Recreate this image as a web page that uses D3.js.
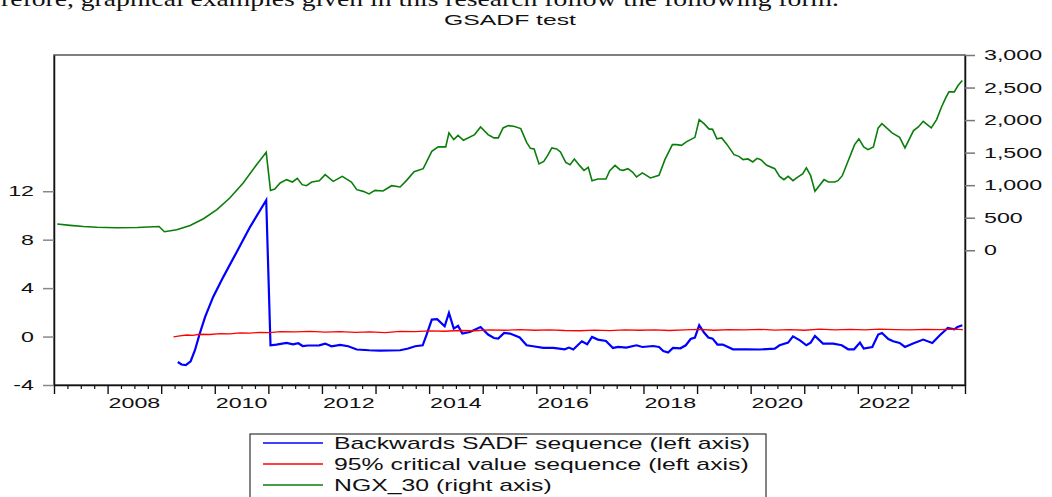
<!DOCTYPE html>
<html>
<head>
<meta charset="utf-8">
<script src="https://cdn.jsdelivr.net/npm/d3@7"></script>
<style>
  body { margin: 0; background: #fff; }
  text { font-family: "Liberation Sans", Arial, sans-serif; fill: #111; }
</style>
</head>
<body>
<svg id="chart" width="1052" height="497"></svg>
<script>
// NGX_30 index (right axis)
const ngxDates = [2007.06,2007.30,2007.55,2007.80,2008.17,2008.55,2008.96,2009.06,2009.29,2009.54,2009.79,2010.04,2010.28,
  2010.53,2010.78,2010.96,2011.04,2011.12,2011.22,2011.34,2011.45,2011.54,2011.63,
  2011.71,2011.81,2011.95,2012.06,2012.21,2012.38,2012.55,2012.65,2012.77,2012.88,
  2012.99,2013.14,2013.30,2013.46,2013.58,2013.72,2013.89,2014.05,2014.17,2014.31,
  2014.37,2014.46,2014.54,2014.64,2014.85,2014.96,2015.10,2015.21,2015.29,2015.38,
  2015.48,2015.58,2015.71,2015.82,2015.89,2015.96,2016.05,2016.14,2016.21,2016.29,
  2016.38,2016.45,2016.55,2016.63,2016.71,2016.81,2016.89,2016.97,2017.04,2017.15,
  2017.30,2017.37,2017.47,2017.56,2017.62,2017.71,2017.80,2017.87,2017.98,2018.13,
  2018.29,2018.40,2018.54,2018.62,2018.71,2018.80,2018.96,2019.04,2019.13,2019.22,
  2019.29,2019.37,2019.46,2019.55,2019.69,2019.78,2019.86,2019.95,2020.04,2020.12,
  2020.19,2020.30,2020.45,2020.54,2020.62,2020.70,2020.79,2020.87,2020.97,2021.04,
  2021.12,2021.20,2021.37,2021.45,2021.57,2021.63,2021.71,2021.94,2022.02,2022.11,
  2022.19,2022.29,2022.38,2022.45,2022.64,2022.78,2022.88,2023.04,2023.13,2023.22,
  2023.37,2023.47,2023.56,2023.64,2023.70,2023.80,2023.87,2023.95];
const ngxValues = [403,383,366,354,346,350,366,285,315,382,485,623,803,
  1034,1315,1505,920,942,1034,1085,1049,1105,1008,
  992,1049,1069,1162,1058,1135,1049,931,905,865,
  920,911,992,972,1074,1208,1254,1520,1588,1588,
  1803,1700,1766,1689,1777,1895,1777,1726,1726,1880,
  1915,1905,1869,1658,1566,1557,1326,1366,1454,1572,
  1557,1511,1351,1315,1403,1300,1228,1274,1069,1095,
  1095,1223,1305,1238,1228,1254,1197,1126,1188,1111,
  1151,1392,1623,1623,1612,1665,1735,2008,1946,1865,
  1858,1711,1726,1634,1469,1443,1392,1403,1357,1412,
  1392,1305,1254,1135,1085,1135,1069,1120,1172,1265,
  1146,905,1085,1049,1049,1069,1146,1623,1711,1588,
  1546,1588,1880,1946,1803,1735,1572,1838,1895,1982,
  1880,2008,2197,2342,2434,2434,2531,2608];

// Backwards SADF sequence (left axis)
const sadfDates = [2009.31,2009.38,2009.46,2009.55,2009.63,2009.72,2009.82,2009.97,2010.16,2010.41,2010.66,2010.96,
  2011.04,2011.15,2011.34,2011.46,2011.56,2011.64,2011.74,2011.95,2012.06,2012.18,2012.34,2012.49,2012.65,2012.88,
  2013.08,2013.46,2013.61,2013.74,2013.88,2013.95,2014.05,2014.15,2014.29,2014.37,2014.46,2014.54,2014.62,2014.76,
  2014.96,2015.10,2015.21,2015.29,2015.40,2015.51,2015.69,2015.82,2015.94,2016.13,2016.32,2016.53,2016.61,2016.69,
  2016.85,2016.95,2017.04,2017.15,2017.30,2017.43,2017.53,2017.68,2017.87,2017.98,2018.18,2018.29,2018.37,2018.46,
  2018.55,2018.69,2018.79,2018.88,2018.96,2019.04,2019.13,2019.21,2019.29,2019.38,2019.48,2019.67,2019.92,2020.17,
  2020.45,2020.54,2020.70,2020.79,2020.92,2021.04,2021.12,2021.20,2021.35,2021.54,2021.70,2021.82,2021.93,2022.04,
  2022.11,2022.27,2022.38,2022.45,2022.57,2022.66,2022.78,2022.88,2023.03,2023.22,2023.39,2023.53,2023.68,2023.80,
  2023.86,2023.95];
const sadfValues = [-2.10,-2.31,-2.36,-2.04,-1.13,0.25,1.62,3.27,4.93,6.99,9.06,11.26,
  -0.72,-0.66,-0.53,-0.64,-0.55,-0.78,-0.74,-0.72,-0.58,-0.80,-0.69,-0.80,-1.07,-1.13,
  -1.16,-1.13,-0.99,-0.80,-0.72,0.11,1.40,1.43,0.85,1.95,0.66,0.88,0.25,0.38,
  0.79,0.17,-0.12,-0.17,0.30,0.25,-0.08,-0.72,-0.80,-0.94,-0.94,-1.05,-0.91,-1.07,
  -0.39,-0.64,-0.03,-0.25,-0.36,-0.94,-0.86,-0.91,-0.72,-0.86,-0.78,-0.86,-1.20,-1.32,
  -0.94,-0.97,-0.72,-0.20,-0.08,0.93,0.33,-0.08,-0.17,-0.66,-0.66,-1.05,-1.05,-1.07,
  -0.99,-0.72,-0.50,0.02,-0.31,-0.72,-0.50,0.05,-0.58,-0.58,-0.72,-1.05,-1.05,-0.50,
  -0.99,-0.86,0.17,0.30,-0.20,-0.39,-0.53,-0.86,-0.58,-0.25,-0.53,0.11,0.71,0.60,
  0.79,0.93];

// 95% critical value sequence (left axis)
const cvDates = [2009.23,2009.35,2009.48,2009.59,2009.72,2009.91,2010.10,2010.28,2010.47,2010.66,2010.84,
  2011.03,2011.22,2011.50,2011.78,2012.06,2012.34,2012.62,2012.90,2013.18,2013.46,2013.74,
  2014.01,2014.29,2014.57,2014.85,2015.13,2015.41,2015.69,2015.97,2016.25,2016.53,2016.81,
  2017.09,2017.37,2017.65,2017.93,2018.21,2018.49,2018.77,2019.04,2019.32,2019.60,2019.88,
  2020.17,2020.45,2020.73,2021.01,2021.29,2021.57,2021.85,2022.13,2022.41,2022.69,2022.97,
  2023.25,2023.53,2023.81,2023.96];
const cvValues = [-0.03,0.05,0.13,0.10,0.19,0.17,0.24,0.22,0.30,0.28,0.35,
  0.33,0.40,0.38,0.42,0.36,0.40,0.35,0.38,0.33,0.42,0.40,
  0.47,0.44,0.50,0.48,0.55,0.52,0.57,0.52,0.56,0.50,0.48,
  0.53,0.49,0.55,0.52,0.56,0.50,0.55,0.60,0.52,0.58,0.55,
  0.60,0.53,0.57,0.52,0.62,0.55,0.60,0.55,0.62,0.58,0.55,
  0.60,0.57,0.62,0.58];

const leftTicks = [-4, 0, 4, 8, 12];
const rightTicks = [0, 500, 1000, 1500, 2000, 2500, 3000];
const yearLabels = [2008, 2010, 2012, 2014, 2016, 2018, 2020, 2022];
const legendNames = ["Backwards SADF sequence (left axis)", "95% critical value sequence (left axis)", "NGX_30 (right axis)"];
const legendColors = ["#0000ff", "#ff0000", "#0a7d0a"];

const svg = d3.select("#chart");
const pLeft = 54, pRight = 965, pTop = 55, pBottom = 385;
const sx = 1.55; // the pasted graph is stretched sideways

const x = d3.scaleLinear().domain([2007, 2024]).range([pLeft, pRight]);
const yL = d3.scaleLinear().domain([-4, 23.25]).range([pBottom, pTop]);
const yR = d3.scaleLinear().domain([-2070, 3000]).range([pBottom, pTop]);

function wideText(tx, ty, str, anchor, size, k) {
    return svg.append("text")
        .attr("transform", `translate(${tx},${ty}) scale(${k},1)`)
        .attr("text-anchor", anchor)
        .style("font-size", size + "px")
        .text(str);
}

// cut-off line of the document above the figure
svg.append("text")
    .attr("x", 1).attr("y", 6)
    .attr("textLength", 838).attr("lengthAdjust", "spacingAndGlyphs")
    .style("font-family", "'Liberation Serif', 'Times New Roman', serif")
    .style("font-size", "22px")
    .text("refore, graphical examples given in this research follow the following form.");

// title
wideText(510, 25, "GSADF test", "middle", 15, 1.65);

// frame
svg.append("rect")
    .attr("x", pLeft).attr("y", pTop)
    .attr("width", pRight - pLeft).attr("height", pBottom - pTop)
    .attr("fill", "none").attr("stroke", "#555").attr("stroke-width", 1.5);

// left axis
const lAx = svg.append("g").attr("transform", `translate(${pLeft},0)`)
    .call(d3.axisLeft(yL).tickValues(leftTicks).tickSize(11).tickSizeOuter(0).tickFormat(""));
lAx.select(".domain").attr("stroke", "#111").attr("stroke-width", 1.5);
lAx.selectAll(".tick line").attr("stroke", "#888").attr("stroke-width", 1.5);
leftTicks.forEach(v => wideText(34, yL(v) + 5, v, "end", 15, sx));

// right axis
const rAx = svg.append("g").attr("transform", `translate(${pRight},0)`)
    .call(d3.axisRight(yR).tickValues(rightTicks).tickSize(10).tickSizeOuter(0).tickFormat(""));
rAx.select(".domain").attr("stroke", "#111").attr("stroke-width", 1.5);
rAx.selectAll(".tick line").attr("stroke", "#777").attr("stroke-width", 1.5);
rightTicks.forEach(v => wideText(984, yR(v) + 5, d3.format(",")(v), "start", 15, sx));

// bottom axis: years major, quarters minor
const years = d3.range(2007, 2025);
const quarters = d3.range(2007, 2024, 0.25).filter(q => q % 1 !== 0);
const bAx = svg.append("g").attr("transform", `translate(0,${pBottom})`)
    .call(d3.axisBottom(x).tickValues(years).tickSize(9).tickSizeOuter(0).tickFormat(""));
bAx.select(".domain").attr("stroke", "#111").attr("stroke-width", 1.5);
bAx.selectAll(".tick line").attr("stroke", "#111").attr("stroke-width", 1.4);
const mAx = svg.append("g").attr("transform", `translate(0,${pBottom})`)
    .call(d3.axisBottom(x).tickValues(quarters).tickSize(4).tickFormat(""));
mAx.select(".domain").remove();
mAx.selectAll(".tick line").attr("stroke", "#111").attr("stroke-width", 1.2);
yearLabels.forEach(yr => wideText(x(yr + 0.5), 408, yr, "middle", 15, sx));

// series
const lineL = d3.line().x(d => x(d[0])).y(d => yL(d[1]));
const lineR = d3.line().x(d => x(d[0])).y(d => yR(d[1]));

svg.append("path").datum(d3.zip(sadfDates, sadfValues))
    .attr("d", lineL).attr("fill", "none")
    .attr("stroke", legendColors[0]).attr("stroke-width", 2.2);
svg.append("path").datum(d3.zip(cvDates, cvValues))
    .attr("d", lineL).attr("fill", "none")
    .attr("stroke", legendColors[1]).attr("stroke-width", 1.3);
svg.append("path").datum(d3.zip(ngxDates, ngxValues))
    .attr("d", lineR).attr("fill", "none")
    .attr("stroke", legendColors[2]).attr("stroke-width", 1.6);

// legend (bottom is cut by the picture edge)
svg.append("rect")
    .attr("x", 250).attr("y", 434).attr("width", 516).attr("height", 80)
    .attr("fill", "#fff").attr("stroke", "#333").attr("stroke-width", 1.2);
legendNames.forEach((name, i) => {
    const ly = 443 + i * 21;
    svg.append("line")
        .attr("x1", 263).attr("x2", 323).attr("y1", ly).attr("y2", ly)
        .attr("stroke", legendColors[i]).attr("stroke-width", 1.4);
    wideText(334, ly + 6, name, "start", 16, 1.55);
});
</script>
</body>
</html>
